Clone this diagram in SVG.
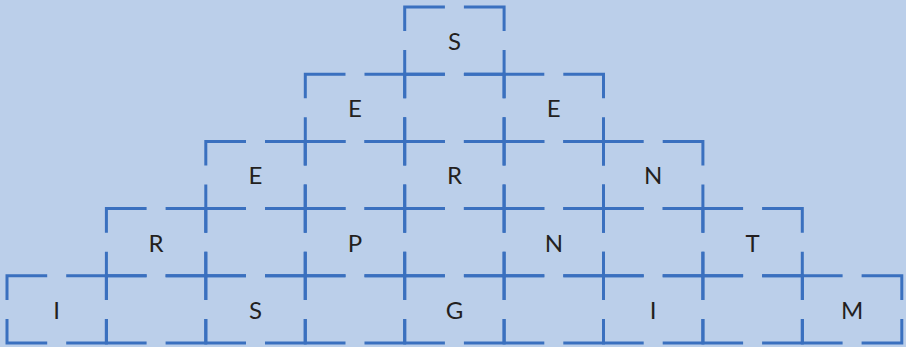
<svg xmlns="http://www.w3.org/2000/svg" xmlns:xlink="http://www.w3.org/1999/xlink" width="906" height="347" viewBox="0 0 906 347">
<style>
.b{fill:none;stroke:#3a70bf;stroke-width:3;stroke-dasharray:64.3 19;stroke-linecap:butt;stroke-linejoin:miter}
.t{font-family:Lato,"Open Sans","Liberation Sans",sans-serif;font-size:24px;fill:#231f20;text-anchor:middle}
</style>
<defs>
<path id="box" class="b" d="M59.2,0H99.4V67.2H0V0H40.2"/>
</defs>
<rect width="906" height="347" fill="#bbcfea"/>
<g id="connectors"/>
<g id="r0c4"><use xlink:href="#box" x="404.7" y="7"/><text class="t" x="454.4" y="50">S</text></g>
<g id="r1c3"><use xlink:href="#box" x="305.3" y="74.2"/><text class="t" x="355" y="117.2">E</text></g>
<g id="r1c4"><use xlink:href="#box" x="404.7" y="74.2"/></g>
<g id="r1c5"><use xlink:href="#box" x="504.1" y="74.2"/><text class="t" x="553.8" y="117.2">E</text></g>
<g id="r2c2"><use xlink:href="#box" x="205.8" y="141.4"/><text class="t" x="255.5" y="184.4">E</text></g>
<g id="r2c3"><use xlink:href="#box" x="305.3" y="141.4"/></g>
<g id="r2c4"><use xlink:href="#box" x="404.7" y="141.4"/><text class="t" x="454.4" y="184.4">R</text></g>
<g id="r2c5"><use xlink:href="#box" x="504.1" y="141.4"/></g>
<g id="r2c6"><use xlink:href="#box" x="603.5" y="141.4"/><text class="t" x="653.2" y="184.4">N</text></g>
<g id="r3c1"><use xlink:href="#box" x="106.4" y="208.6"/><text class="t" x="156.1" y="251.6">R</text></g>
<g id="r3c2"><use xlink:href="#box" x="205.8" y="208.6"/></g>
<g id="r3c3"><use xlink:href="#box" x="305.3" y="208.6"/><text class="t" x="355" y="251.6">P</text></g>
<g id="r3c4"><use xlink:href="#box" x="404.7" y="208.6"/></g>
<g id="r3c5"><use xlink:href="#box" x="504.1" y="208.6"/><text class="t" x="553.8" y="251.6">N</text></g>
<g id="r3c6"><use xlink:href="#box" x="603.5" y="208.6"/></g>
<g id="r3c7"><use xlink:href="#box" x="702.9" y="208.6"/><text class="t" x="752.6" y="251.6">T</text></g>
<g id="r4c0"><use xlink:href="#box" x="7" y="275.8"/><text class="t" x="56.7" y="318.8">I</text></g>
<g id="r4c1"><use xlink:href="#box" x="106.4" y="275.8"/></g>
<g id="r4c2"><use xlink:href="#box" x="205.8" y="275.8"/><text class="t" x="255.5" y="318.8">S</text></g>
<g id="r4c3"><use xlink:href="#box" x="305.3" y="275.8"/></g>
<g id="r4c4"><use xlink:href="#box" x="404.7" y="275.8"/><text class="t" x="454.4" y="318.8">G</text></g>
<g id="r4c5"><use xlink:href="#box" x="504.1" y="275.8"/></g>
<g id="r4c6"><use xlink:href="#box" x="603.5" y="275.8"/><text class="t" x="653.2" y="318.8">I</text></g>
<g id="r4c7"><use xlink:href="#box" x="702.9" y="275.8"/></g>
<g id="r4c8"><use xlink:href="#box" x="802.4" y="275.8"/><text class="t" x="852.1" y="318.8">M</text></g>
</svg>
